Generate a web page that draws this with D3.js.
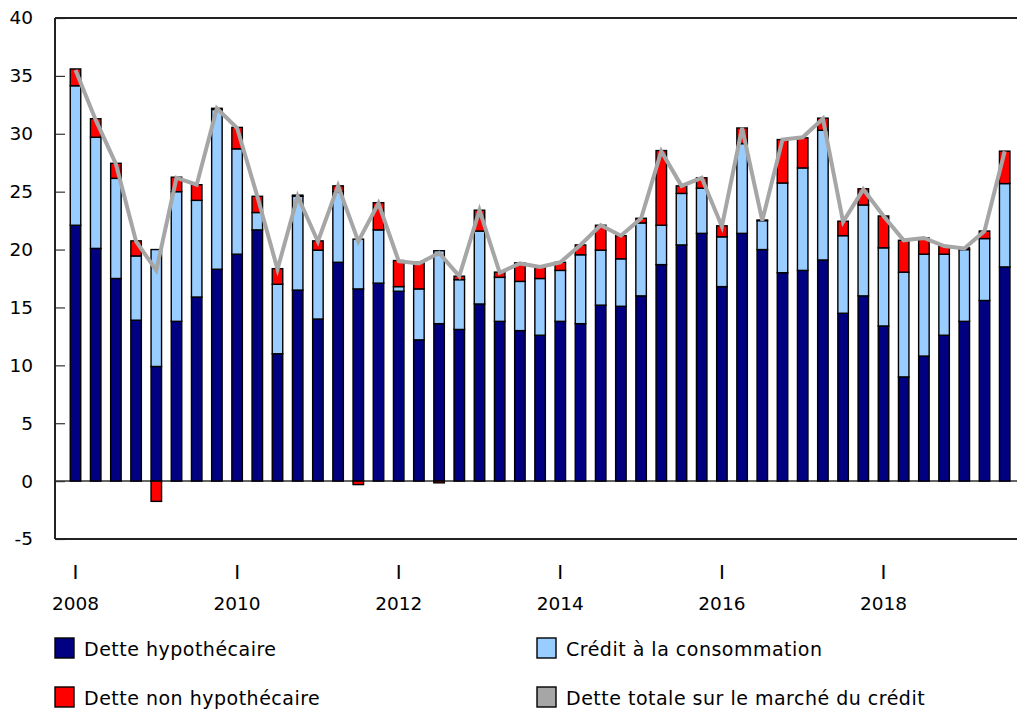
<!DOCTYPE html>
<html>
<head>
<meta charset="utf-8">
<script src="https://cdn.jsdelivr.net/npm/d3@7"></script>
<style>
  html, body { margin: 0; padding: 0; background: #fff; }
  svg { display: block; }
  text { font-family: "DejaVu Sans", Verdana, sans-serif; }
</style>
</head>
<body>
<svg id="chart" width="1017" height="711"></svg>
<script>
// Quarters 2008 T1 .. 2019 T3
const years = d3.range(2008, 2020);
const quarters = [];
years.forEach(y => [1, 2, 3, 4].forEach(q => { if (quarters.length < 47) quarters.push(y + "T" + q); }));

const seriesNames = ["Dette hypothécaire", "Crédit à la consommation", "Dette non hypothécaire", "Dette totale sur le marché du crédit"];

const mortgage = [22.1, 20.1, 17.5, 13.9, 9.9, 13.8, 15.9, 18.3, 19.6, 21.7, 11.0, 16.5,
  14.0, 18.9, 16.6, 17.1, 16.4, 12.2, 13.6, 13.1, 15.3, 13.8, 13.0, 12.6,
  13.8, 13.6, 15.2, 15.1, 16.0, 18.7, 20.4, 21.4, 16.8, 21.4, 20.0, 18.0,
  18.2, 19.1, 14.5, 16.0, 13.4, 9.0, 10.8, 12.6, 13.8, 15.6, 18.5];
const consumer = [12.05, 9.6, 8.65, 5.55, 10.1, 11.2, 8.35, 13.8, 9.1, 1.5, 6.0, 8.1,
  5.95, 6.1, 4.3, 4.6, 0.4, 4.4, 6.3, 4.3, 6.3, 3.8, 4.25, 4.9,
  4.4, 5.95, 4.75, 4.1, 6.3, 3.4, 4.45, 3.9, 4.3, 7.75, 2.5, 7.75,
  8.85, 11.2, 6.7, 7.85, 6.75, 9.05, 8.8, 7.0, 6.2, 5.35, 7.2];
const nonMortgage = [1.45, 1.6, 1.3, 1.3, -1.75, 1.25, 1.35, 0.1, 1.85, 1.4, 1.35, 0.1,
  0.8, 0.5, -0.3, 2.35, 2.25, 2.3, -0.15, 0.3, 1.8, 0.45, 1.6, 1.0,
  0.7, 0.85, 2.15, 2.0, 0.4, 6.45, 0.65, 0.9, 0.95, 1.35, 0.05, 3.75,
  2.6, 1.05, 1.25, 1.4, 2.75, 2.75, 1.4, 0.7, 0.15, 0.65, 2.8];
const total = [35.5, 31.2, 27.4, 20.7, 18.2, 26.2, 25.6, 32.2, 30.5, 24.6, 18.3, 24.6,
  20.7, 25.5, 20.7, 24.0, 19.0, 18.8, 19.7, 17.7, 23.4, 18.0, 18.8, 18.5,
  18.9, 20.4, 22.1, 21.2, 22.7, 28.5, 25.5, 26.2, 22.0, 30.5, 22.5, 29.5,
  29.7, 31.3, 22.4, 25.2, 22.9, 20.8, 21.0, 20.3, 20.1, 21.6, 28.5];

const yTicks = [-5, 0, 5, 10, 15, 20, 25, 30, 35, 40];
const xTickQuarters = ["2008T1", "2010T1", "2012T1", "2014T1", "2016T1", "2018T1"];

const colors = ["#000080", "#99ccff", "#ff0000", "#a6a6a6"];

const svg = d3.select("#chart");

const x = d3.scaleBand().domain(quarters).range([65.4, 1014.8]).paddingInner(0.48).paddingOuter(0.24);
const y = d3.scaleLinear().domain([-5, 40]).range([539, 18]);

const rows = quarters.map((q, i) => ({ q, m: mortgage[i], c: consumer[i], n: nonMortgage[i] }));
const stack = d3.stack().keys(["m", "c", "n"]).offset(d3.stackOffsetDiverging);
const stacked = stack(rows);

// zero line
svg.append("line")
  .attr("x1", 55).attr("x2", 1017)
  .attr("y1", y(0)).attr("y2", y(0))
  .attr("stroke", "#333").attr("stroke-width", 1.5);

// bars
svg.append("g").selectAll("g")
  .data(stacked)
  .join("g")
  .attr("fill", (d, i) => colors[i])
  .selectAll("rect")
  .data(d => d)
  .join("rect")
  .attr("x", d => x(d.data.q))
  .attr("width", x.bandwidth())
  .attr("y", d => y(Math.max(d[0], d[1])))
  .attr("height", d => Math.abs(y(d[0]) - y(d[1])))
  .attr("stroke", "#000")
  .attr("stroke-width", 1.4);

// total line
const line = d3.line()
  .x((d, i) => x(quarters[i]) + x.bandwidth() / 2)
  .y(d => y(d));
svg.append("path")
  .datum(total)
  .attr("d", line)
  .attr("fill", "none")
  .attr("stroke", colors[3])
  .attr("stroke-width", 4);

// y axis
const yAxis = d3.axisLeft(y).tickValues(yTicks).tickSizeInner(-10).tickSizeOuter(0).tickPadding(22)
  .tickFormat(d => String(d));
const gy = svg.append("g").attr("transform", "translate(55,0)").call(yAxis);
gy.select(".domain").remove();
gy.selectAll(".tick line").attr("stroke", "#333").attr("stroke-width", 1.2);
gy.selectAll(".tick text").attr("font-size", 18.5).attr("fill", "#000")
  .attr("font-family", "'DejaVu Sans', Verdana, sans-serif");

// frame lines: left, top, bottom
svg.append("line").attr("x1", 55).attr("x2", 55).attr("y1", y(40)).attr("y2", y(-5))
  .attr("stroke", "#222").attr("stroke-width", 2);
svg.append("line").attr("x1", 55).attr("x2", 1017).attr("y1", y(40)).attr("y2", y(40))
  .attr("stroke", "#222").attr("stroke-width", 2);
svg.append("line").attr("x1", 55).attr("x2", 1017).attr("y1", y(-5)).attr("y2", y(-5))
  .attr("stroke", "#222").attr("stroke-width", 2);

// x axis labels
const xAxis = d3.axisBottom(x).tickValues(xTickQuarters).tickSize(0).tickPadding(0).tickFormat(() => "I");
const gx = svg.append("g").attr("transform", "translate(0,565)").call(xAxis);
gx.select(".domain").remove();
gx.selectAll(".tick text")
  .attr("font-size", 20)
  .attr("font-family", "'Liberation Serif', 'DejaVu Serif', serif")
  .attr("fill", "#000");
gx.selectAll(".tick").append("text")
  .attr("y", 45)
  .attr("x", 0)
  .attr("text-anchor", "middle")
  .attr("font-size", 18.5)
  .attr("fill", "#000")
  .attr("font-family", "'DejaVu Sans', Verdana, sans-serif")
  .text(d => d.slice(0, 4));

// legend
const legendPos = [[55, 648], [537, 648], [55, 697], [537, 697]];
const legendOrder = [0, 1, 2, 3];
const lg = svg.append("g");
legendOrder.forEach((si, k) => {
  const [lx, ly] = legendPos[k];
  lg.append("rect")
    .attr("x", lx).attr("y", ly - 10)
    .attr("width", 19).attr("height", 20)
    .attr("fill", colors[si])
    .attr("stroke", "#000").attr("stroke-width", 1.4);
  lg.append("text")
    .attr("x", lx + 29).attr("y", ly + 1)
    .attr("dy", "0.35em")
    .attr("font-size", 19)
    .attr("letter-spacing", 0.5)
    .attr("fill", "#000")
    .text(seriesNames[si]);
});
</script>
</body>
</html>
